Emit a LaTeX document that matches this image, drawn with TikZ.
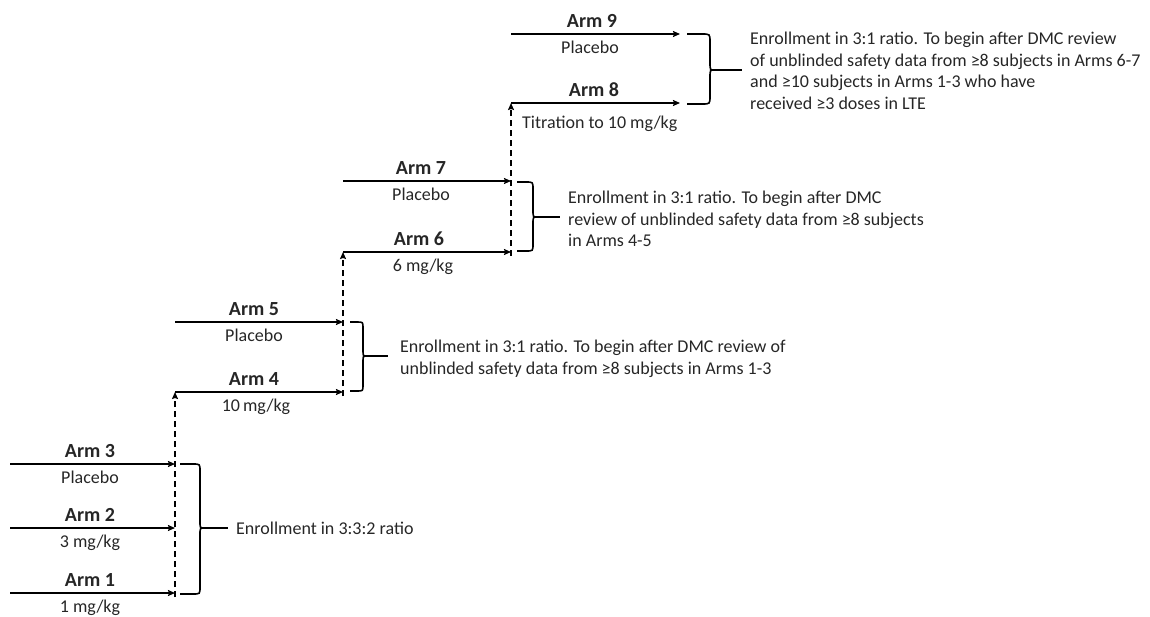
\documentclass[tikz,border=0pt]{standalone}
\usepackage{fontspec}
\setmainfont{Carlito}
\usetikzlibrary{arrows.meta}
\definecolor{txt}{HTML}{262626}
\tikzset{
  armline/.style={line width=1.6pt, draw=black, -{Stealth[length=7pt,width=6pt,inset=1pt]}},
  dsh/.style={line width=1.4pt, draw=black, dash pattern=on 6pt off 4pt, -{Stealth[length=7pt,width=6pt,inset=1pt]}},
  bracket/.style={line width=1.6pt, draw=black},
  tipline/.style={line width=1.6pt, draw=black},
  armlbl/.style={anchor=base, inner sep=0pt, text=txt, font=\fontsize{20}{22}\selectfont\bfseries},
  doselbl/.style={anchor=base, inner sep=0pt, text=txt, font=\fontsize{18}{20}\selectfont},
  note/.style={anchor=west, inner sep=0pt, align=left, text=txt, font=\fontsize{18}{21.5}\selectfont},
}
\begin{document}
\begin{tikzpicture}[x=1pt, y=-1pt]
\useasboundingbox (0,0) rectangle (1150,616);
% ---------- coordinates: arm line starts / ends
\coordinate (s3) at (10,464);  \coordinate (e3) at (175,464);
\coordinate (s2) at (10,528);  \coordinate (e2) at (175,528);
\coordinate (s1) at (10,593);  \coordinate (e1) at (175,593);
\coordinate (s5) at (175,322); \coordinate (e5) at (343,322);
\coordinate (s4) at (175,392); \coordinate (e4) at (343,392);
\coordinate (s7) at (343,181); \coordinate (e7) at (511,181);
\coordinate (s6) at (343,252); \coordinate (e6) at (511,252);
\coordinate (s9) at (511,34);  \coordinate (e9) at (680,34);
\coordinate (s8) at (511,103); \coordinate (e8) at (680,103);
\coordinate (d1) at (175,597);
\coordinate (d2) at (343,396);
\coordinate (d3) at (511,256);
% ---------- arm lines
\draw[armline] (s3) -- (e3);
\draw[armline] (s2) -- (e2);
\draw[armline] (s1) -- (e1);
\draw[armline] (s5) -- (e5);
\draw[armline] (s4) -- (e4);
\draw[armline] (s7) -- (e7);
\draw[armline] (s6) -- (e6);
\draw[armline] (s9) -- (e9);
\draw[armline] (s8) -- (e8);
% ---------- dashed risers
\draw[dsh] (d1) -- (s4);
\draw[dsh] (d2) -- (s6);
\draw[dsh] (d3) -- (s8);
% ---------- labels
\node[armlbl] (la3) at (90,457) {Arm 3};
\node[doselbl] (da3) at (90,483) {Placebo};
\node[armlbl] (la2) at (90,521) {Arm 2};
\node[doselbl] (da2) at (90,547) {3 mg/kg};
\node[armlbl] (la1) at (90,586) {Arm 1};
\node[doselbl] (da1) at (90,612) {1 mg/kg};
\node[armlbl] (la5) at (254,315) {Arm 5};
\node[doselbl] (da5) at (254,341) {Placebo};
\node[armlbl] (la4) at (254,385) {Arm 4};
\node[doselbl] (da4) at (256,411) {10\,mg/kg};
\node[armlbl] (la7) at (421,174) {Arm 7};
\node[doselbl] (da7) at (421,200) {Placebo};
\node[armlbl] (la6) at (419,245) {Arm 6};
\node[doselbl] (da6) at (423,271) {6 mg/kg};
\node[armlbl] (la9) at (592,27) {Arm 9};
\node[doselbl] (da9) at (590,53) {Placebo};
\node[armlbl] (la8) at (594,96) {Arm 8};
\node[doselbl, anchor=base west] (da8) at (522,128) {Titration to 10 mg/kg};
% ---------- brackets
\draw[bracket] (180,464) -- (193,464) .. controls (200,464) .. (200,471) -- (200,521) .. controls (200,528) .. (204,528)
               .. controls (200,528) .. (200,535) -- (200,587) .. controls (200,594) .. (193,594) -- (180,594);
\coordinate (b1) at (204,528);
\draw[bracket] (350,322) -- (357,322) .. controls (363,322) .. (363,328) -- (363,350) .. controls (363,356) .. (367,356)
               .. controls (363,356) .. (363,362) -- (363,385) .. controls (363,391) .. (357,391) -- (350,391);
\coordinate (b2) at (367,356);
\draw[bracket] (517,182) -- (526,182) .. controls (533,182) .. (533,189) -- (533,210) .. controls (533,217) .. (537,217)
               .. controls (533,217) .. (533,224) -- (533,244) .. controls (533,251) .. (526,251) -- (517,251);
\coordinate (b3) at (537,217);
\draw[bracket] (687,34) -- (702,34) .. controls (710,34) .. (710,42) -- (710,62) .. controls (710,70) .. (714,70)
               .. controls (710,70) .. (710,78) -- (710,96) .. controls (710,104) .. (702,104) -- (687,104);
\coordinate (b4) at (714,70);
% ---------- notes
\node[note] (n1) at (236,528) {Enrollment in 3:3:2 ratio};
\node[note] (n2) at (400,359) {Enrollment in 3:1 ratio. To begin after DMC review of\\unblinded safety data from ≥8 subjects in Arms 1-3};
\node[note] (n3) at (568,219) {Enrollment in 3:1 ratio. To begin after DMC\\review of unblinded safety data from ≥8 subjects\\in Arms 4-5};
\node[note] (n4) at (750,71) {Enrollment in 3:1 ratio. To begin after DMC review\\of unblinded safety data from ≥8 subjects in Arms 6-7\\and ≥10 subjects in Arms 1-3 who have\\received ≥3 doses in LTE};
% ---------- bracket tips to notes
\draw[tipline, shorten >=8pt] (b1) -- (n1.west);
\draw[tipline, shorten >=12pt] (b2) -- (b2 -| n2.west);
\draw[tipline, shorten >=8pt] (b3) -- (b3 -| n3.west);
\draw[tipline, shorten >=8pt] (b4) -- (b4 -| n4.west);
\end{tikzpicture}
\end{document}
